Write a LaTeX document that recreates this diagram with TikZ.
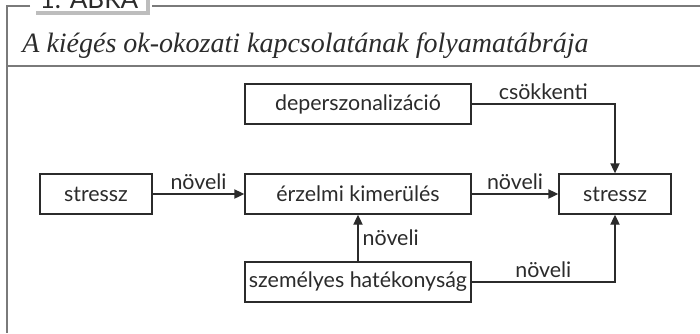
\documentclass[tikz,border=0pt]{standalone}
\usepackage{fontspec}
\setmainfont{Liberation Serif}
\newfontfamily\boxfont{Lato}
\usetikzlibrary{arrows.meta}
\definecolor{framegray}{HTML}{7A7A7A}
\definecolor{shadowgray}{HTML}{BDBDBD}
\definecolor{inkgray}{HTML}{2B2B2B}
\tikzset{
	block/.style={draw=inkgray, line width=0.7pt, minimum height=20pt, inner sep=1.5pt,
		font=\boxfont\fontsize{10.7}{13}\selectfont, text=inkgray},
	wideblock/.style={block, minimum width=113pt},
	narrowblock/.style={block, minimum width=56pt},
	link/.style={draw=inkgray, line width=0.7pt, -{Triangle[length=5pt,width=4.6pt]}},
	lbl/.style={font=\boxfont\fontsize{10.7}{13}\selectfont, text=inkgray, inner sep=2pt},
	frameline/.style={draw=framegray, line width=0.8pt}
}
\begin{document}
\begin{tikzpicture}[x=0.5pt,y=-0.5pt]
	\clip (0,0) rectangle (700,333);
	\fill[shadowgray] (36,-10) rectangle (150,15);
	\fill[white] (32,-10) rectangle (146,11);
	\node[anchor=base, inner sep=0pt, text=inkgray, font=\boxfont\fontsize{13}{14}\selectfont] (tab) at (89,8) {1. ÁBRA};
	\draw[frameline] (30,6) -- (7,6) -- (7,333);
	\draw[frameline] (152,6) -- (700,6);
	\draw[frameline] (7,66) -- (700,66);
	\node[anchor=base west, inner sep=0pt, text=inkgray, font=\itshape\fontsize{14}{16}\selectfont] (title) at (22,52) {A kiégés ok-okozati kapcsolatának folyamatábrája};

	\node[wideblock] (deperz) at (358,104) {deperszonalizáció};
	\node[narrowblock] (stressA) at (96,194) {stressz};
	\node[wideblock] (kimerul) at (358,194) {érzelmi kimerülés};
	\node[narrowblock] (stressB) at (615,194) {stressz};
	\node[wideblock] (hatekony) at (358,282) {személyes hatékonyság};

	\draw[link] (stressA) -- node[lbl, above] {növeli} (kimerul);
	\draw[link] (kimerul) -- node[lbl, above] {növeli} (stressB);
	\draw[link] (hatekony) -- node[lbl, right] {növeli} (kimerul);
	\draw[link] (hatekony.east) -| node[lbl, above, pos=0.25] {növeli} (stressB.south);
	\draw[link] (deperz.east) -| node[lbl, above, pos=0.25] {csökkenti} (stressB.north);
\end{tikzpicture}
\end{document}
